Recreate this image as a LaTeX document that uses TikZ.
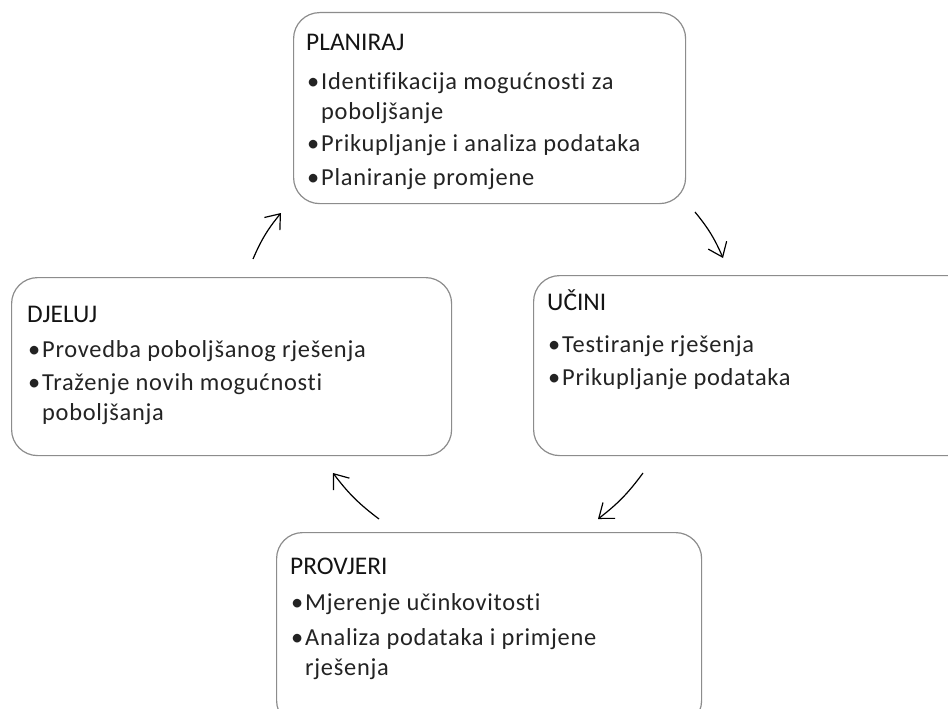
\documentclass[tikz,border=0pt]{standalone}
\usepackage{fontspec}
\setmainfont{Carlito}
\newfontfamily\bodyfont[LetterSpace=3, Ligatures=NoCommon, RawFeature=-liga]{Carlito}
\usetikzlibrary{arrows.meta}
\definecolor{boxgray}{RGB}{140,140,140}
\definecolor{txt}{RGB}{20,20,20}
\definecolor{bodytxt}{RGB}{35,35,35}
\begin{document}
\begin{tikzpicture}[x=1bp,y=-1bp,
  card/.style={draw=boxgray, line width=1.2bp, rounded corners=26bp, anchor=north west, inner sep=0pt},
  head/.style={anchor=base west, inner sep=0pt, text=txt, font=\fontsize{25.5}{30}\selectfont},
  item/.style={anchor=base west, inner sep=0pt, text=bodytxt, font=\bodyfont\fontsize{24.5}{30}\selectfont},
  cyc/.style={line width=1.2bp, -{Straight Barb[length=13bp,width=20bp,line width=1.2bp]}, bend left=8}
]
\clip (0,0) rectangle (948,709);
\fill[white] (0,0) rectangle (948,709);

% PLANIRAJ
\node[card, minimum width=392bp, minimum height=191bp] (plan) at (293,12) {};
\node[head] (planH) at (306,51) {PLANIRAJ};
\node[item] (plan1) at (307,90) {\makebox[14bp][l]{•}Identifikacija mogućnosti za};
\node[item] (plan1b) at (321,120) {poboljšanje};
\node[item] (plan2) at (307,152) {\makebox[14bp][l]{•}Prikupljanje i analiza podataka};
\node[item] (plan3) at (307,186) {\makebox[14bp][l]{•}Planiranje promjene};

% DJELUJ
\node[card, minimum width=440bp, minimum height=178bp] (djel) at (11,277) {};
\node[head] (djelH) at (27,322) {DJELUJ};
\node[item] (djel1) at (28,357) {\makebox[14bp][l]{•}Provedba poboljšanog rješenja};
\node[item] (djel2) at (28,390) {\makebox[14bp][l]{•}Traženje novih mogućnosti};
\node[item] (djel2b) at (42,420) {poboljšanja};

% UCINI
\node[card, minimum width=440bp, minimum height=180bp] (ucin) at (533,275) {};
\node[head] (ucinH) at (547,310) {UČINI};
\node[item] (ucin1) at (548,352) {\makebox[14bp][l]{•}Testiranje rješenja};
\node[item] (ucin2) at (548,385) {\makebox[14bp][l]{•}Prikupljanje podataka};

% PROVJERI
\node[card, minimum width=425bp, minimum height=194bp] (prov) at (276,532) {};
\node[head] (provH) at (290,574) {PROVJERI};
\node[item] (prov1) at (291,610) {\makebox[14bp][l]{•}Mjerenje učinkovitosti};
\node[item] (prov2) at (291,645) {\makebox[14bp][l]{•}Analiza podataka i primjene};
\node[item] (prov2b) at (305,675) {rješenja};

% cycle arrows
\coordinate (a1s) at (253,259); \coordinate (a1e) at (281,213);
\coordinate (a2s) at (695,212); \coordinate (a2e) at (723,258);
\coordinate (a3s) at (643,473); \coordinate (a3e) at (598,519);
\coordinate (a4s) at (379,519); \coordinate (a4e) at (333,473);
\draw[cyc] (a1s) to (a1e);
\draw[cyc] (a2s) to (a2e);
\draw[cyc] (a3s) to (a3e);
\draw[cyc] (a4s) to (a4e);
\end{tikzpicture}
\end{document}
